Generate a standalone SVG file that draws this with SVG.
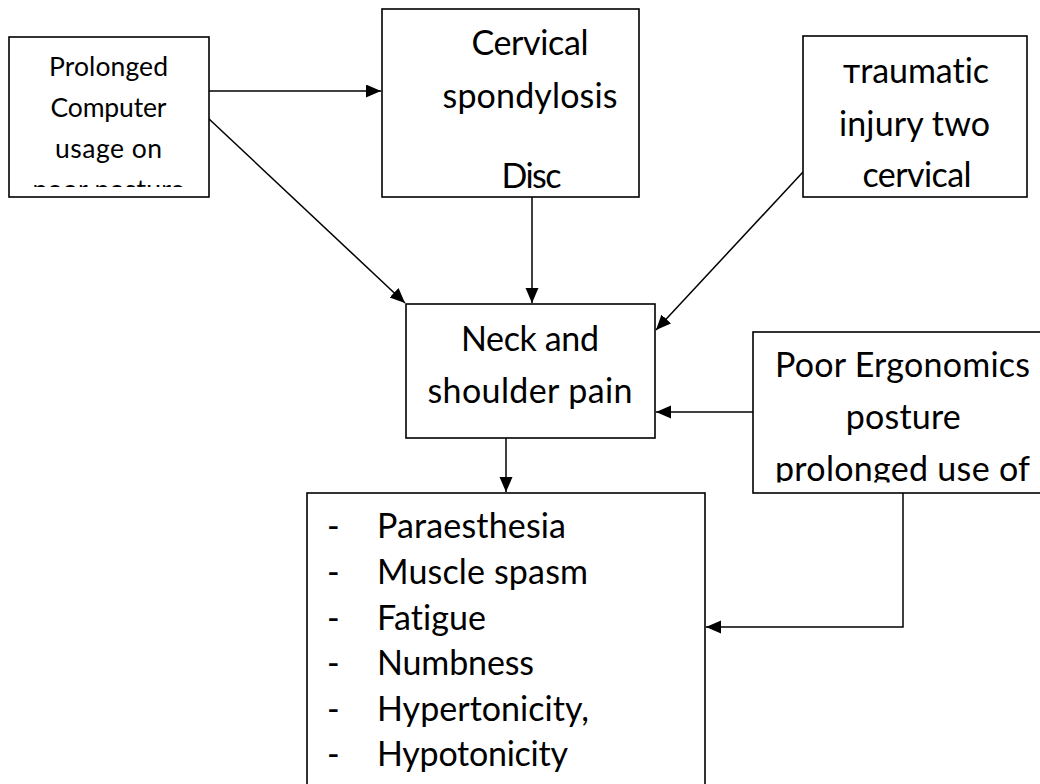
<svg xmlns="http://www.w3.org/2000/svg" width="1040" height="784" viewBox="0 0 1040 784">
  <style>
    .box { fill: #ffffff; stroke: #000000; stroke-width: 1.6; }
    .t { font-family: Lato, "Open Sans", "Liberation Sans", sans-serif; fill: #000000; text-anchor: middle; font-variant-ligatures: none; }
    .s { font-size: 26.5px; }
    .l { font-size: 34px; }
    .lft { text-anchor: start; }
    .conn { fill: none; stroke: #000000; stroke-width: 1.5; }
  </style>
  <defs>
    <marker id="arr" markerUnits="userSpaceOnUse" markerWidth="16" markerHeight="14" refX="15" refY="6.5" orient="auto">
      <path d="M0,0 L15,6.5 L0,13 z" fill="#000000"/>
    </marker>
    <clipPath id="clip1"><rect x="10" y="38" width="198" height="149"/></clipPath>
    <clipPath id="clip4"><rect x="754" y="333" width="290" height="149.5"/></clipPath>
  </defs>
  <rect width="1040" height="784" fill="#ffffff"/>

  <g id="connectors">
    <line class="conn" x1="208" y1="91" x2="381" y2="91" marker-end="url(#arr)"/>
    <line class="conn" x1="208" y1="118" x2="405" y2="303" marker-end="url(#arr)"/>
    <line class="conn" x1="532" y1="197" x2="532" y2="303" marker-end="url(#arr)"/>
    <line class="conn" x1="803" y1="172" x2="656" y2="330" marker-end="url(#arr)"/>
    <line class="conn" x1="753" y1="412" x2="656" y2="412" marker-end="url(#arr)"/>
    <line class="conn" x1="506" y1="438" x2="506" y2="492" marker-end="url(#arr)"/>
    <polyline class="conn" points="903,493 903,627 706,627" marker-end="url(#arr)"/>
  </g>

  <g id="node-prolonged">
    <rect class="box" x="9" y="37" width="200" height="160"/>
    <g clip-path="url(#clip1)">
      <text class="t s" x="108.5" y="76" textLength="119">Prolonged</text>
      <text class="t s" x="108.5" y="117" textLength="116">Computer</text>
      <text class="t s" x="108.5" y="158" textLength="107">usage on</text>
      <text class="t s" x="108.5" y="199" textLength="152">poor posture</text>
    </g>
  </g>

  <g id="node-cervical">
    <rect class="box" x="382" y="9" width="257" height="188"/>
    <text class="t l" x="530" y="55" textLength="117">Cervical</text>
    <text class="t l" x="530" y="108" textLength="175">spondylosis</text>
    <text class="t l" x="531.5" y="188" textLength="60">Disc</text>
  </g>

  <g id="node-traumatic">
    <rect class="box" x="803" y="36" width="224" height="161"/>
    <text class="t l" x="916" y="83" textLength="146">тraumatic</text>
    <text class="t l" x="914.5" y="136" textLength="151">injury two</text>
    <text class="t l" x="917" y="187" textLength="109">cervical</text>
  </g>

  <g id="node-neck">
    <rect class="box" x="406" y="304" width="249" height="134"/>
    <text class="t l" x="530" y="351" textLength="138">Neck and</text>
    <text class="t l" x="530" y="403" textLength="205">shoulder pain</text>
  </g>

  <g id="node-ergonomics">
    <rect class="box" x="753" y="332" width="300" height="161"/>
    <g clip-path="url(#clip4)">
      <text class="t l" x="902.5" y="377" textLength="255">Poor Ergonomics</text>
      <text class="t l" x="903.3" y="429" textLength="115">posture</text>
      <text class="t l" x="902.5" y="481" textLength="255">prolonged use of</text>
    </g>
  </g>

  <g id="node-symptoms">
    <rect class="box" x="307" y="493" width="398" height="300"/>
    <text class="t l lft" x="327" y="538">-</text>
    <text class="t l lft" x="377" y="538" textLength="189">Paraesthesia</text>
    <text class="t l lft" x="327" y="584">-</text>
    <text class="t l lft" x="377" y="584" textLength="211">Muscle spasm</text>
    <text class="t l lft" x="327" y="629.5">-</text>
    <text class="t l lft" x="377" y="629.5" textLength="109">Fatigue</text>
    <text class="t l lft" x="327" y="675">-</text>
    <text class="t l lft" x="377" y="675" textLength="157">Numbness</text>
    <text class="t l lft" x="327" y="720.5">-</text>
    <text class="t l lft" x="377" y="720.5" textLength="212">Hypertonicity,</text>
    <text class="t l lft" x="327" y="766">-</text>
    <text class="t l lft" x="377" y="766" textLength="191">Hypotonicity</text>
  </g>
</svg>
